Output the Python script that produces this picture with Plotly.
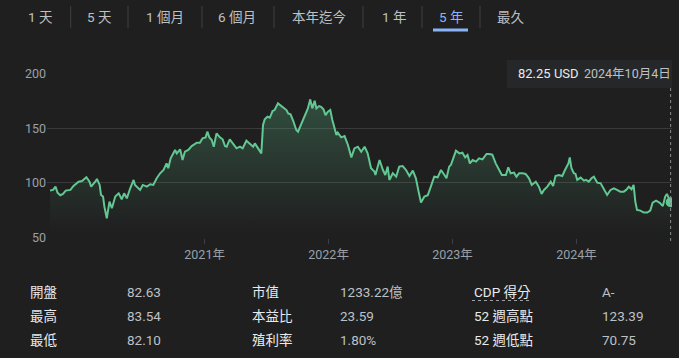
import plotly.graph_objects as go
from datetime import date

# ---------------- data ----------------
dates = [
    "2019-10-04", "2019-10-13", "2019-10-20", "2019-10-26", "2019-11-03", "2019-11-11", "2019-11-19",
    "2019-12-03", "2019-12-12", "2019-12-27", "2020-01-06", "2020-01-19", "2020-01-28", "2020-02-02",
    "2020-02-14", "2020-02-19", "2020-02-27", "2020-03-02", "2020-03-08", "2020-03-12", "2020-03-19",
    "2020-03-27", "2020-04-03", "2020-04-13", "2020-04-23", "2020-05-02", "2020-05-09", "2020-05-17",
    "2020-05-27", "2020-06-06", "2020-06-10", "2020-06-25", "2020-07-03", "2020-07-15", "2020-07-25",
    "2020-08-03", "2020-08-13", "2020-08-23", "2020-09-02", "2020-09-11", "2020-09-16", "2020-09-23",
    "2020-10-06", "2020-10-11", "2020-10-21", "2020-10-28", "2020-11-04", "2020-11-14", "2020-11-24",
    "2020-12-09", "2020-12-18", "2020-12-26", "2021-01-04", "2021-01-09", "2021-01-15", "2021-01-22",
    "2021-01-28", "2021-02-05", "2021-02-15", "2021-02-23", "2021-03-02", "2021-03-07", "2021-03-16",
    "2021-03-26", "2021-04-05", "2021-04-15", "2021-04-23", "2021-05-04", "2021-05-14", "2021-05-24",
    "2021-05-29", "2021-06-08", "2021-06-17", "2021-06-22", "2021-06-27", "2021-07-05", "2021-07-12",
    "2021-07-20", "2021-07-26", "2021-08-05", "2021-08-15", "2021-08-22", "2021-08-30", "2021-09-04",
    "2021-09-11", "2021-09-18", "2021-09-28", "2021-10-03", "2021-10-13", "2021-10-23", "2021-11-01",
    "2021-11-08", "2021-11-14", "2021-11-21", "2021-11-26", "2021-12-04", "2021-12-10", "2021-12-17",
    "2021-12-23", "2021-12-30", "2022-01-06", "2022-01-12", "2022-01-19", "2022-01-24", "2022-01-28",
    "2022-02-07", "2022-02-17", "2022-02-27", "2022-03-09", "2022-03-18", "2022-03-28", "2022-04-07",
    "2022-04-17", "2022-04-26", "2022-05-06", "2022-05-16", "2022-05-19", "2022-05-31", "2022-06-10",
    "2022-06-17", "2022-06-24", "2022-06-29", "2022-07-09", "2022-07-19", "2022-07-28", "2022-08-07",
    "2022-08-17", "2022-08-27", "2022-09-06", "2022-09-15", "2022-09-23", "2022-09-30", "2022-10-10",
    "2022-10-20", "2022-10-29", "2022-11-08", "2022-11-18", "2022-11-28", "2022-12-08", "2022-12-14",
    "2022-12-22", "2022-12-27", "2023-01-03", "2023-01-11", "2023-01-21", "2023-01-30", "2023-02-07",
    "2023-02-14", "2023-02-21", "2023-03-01", "2023-03-11", "2023-03-20", "2023-03-30", "2023-04-04",
    "2023-04-11", "2023-04-19", "2023-04-28", "2023-05-08", "2023-05-18", "2023-05-26", "2023-06-07",
    "2023-06-14", "2023-06-21", "2023-07-01", "2023-07-08", "2023-07-16", "2023-07-26", "2023-08-04",
    "2023-08-14", "2023-08-22", "2023-09-03", "2023-09-12", "2023-09-20", "2023-09-27", "2023-10-07",
    "2023-10-17", "2023-10-24", "2023-10-31", "2023-11-10", "2023-11-20", "2023-11-28", "2023-12-08",
    "2023-12-12", "2023-12-17", "2023-12-24", "2023-12-29", "2024-01-03", "2024-01-13", "2024-01-23",
    "2024-01-29", "2024-02-06", "2024-02-14", "2024-02-21", "2024-03-02", "2024-03-12", "2024-03-21",
    "2024-03-31", "2024-04-10", "2024-04-20", "2024-04-29", "2024-05-09", "2024-05-19", "2024-05-26",
    "2024-06-03", "2024-06-11", "2024-06-17", "2024-06-22", "2024-06-27", "2024-07-07", "2024-07-17",
    "2024-07-27", "2024-08-05", "2024-08-12", "2024-08-22", "2024-09-01", "2024-09-11", "2024-09-18",
    "2024-09-23", "2024-10-04",
]
prices = [
    93.0, 93.6, 96.6, 91.1, 88.7, 89.9, 93.0,
    93.6, 97.2, 101.2, 101.8, 105.2, 101.2, 96.6,
    101.2, 103.7, 98.2, 89.0, 87.5, 78.3, 67.6,
    82.9, 76.8, 87.5, 90.5, 85.0, 90.5, 85.9,
    95.1, 102.8, 98.2, 93.6, 98.2, 96.6, 98.8,
    98.2, 104.3, 108.9, 111.9, 118.0, 113.5, 122.6,
    130.3, 127.2, 130.9, 121.1, 128.7, 130.3, 133.9,
    137.0, 137.0, 141.0, 141.9, 147.1, 141.9, 139.5,
    133.3, 145.6, 141.9, 140.1, 133.9, 133.3, 140.1,
    135.8, 131.8, 133.3, 131.8, 138.8, 135.8, 133.3,
    136.4, 131.8, 127.2, 153.2, 158.4, 160.9, 159.9,
    166.1, 167.0, 173.1, 170.6, 168.2, 167.0, 163.9,
    163.0, 157.8, 148.6, 147.1, 154.7, 162.4, 168.5,
    176.8, 168.5, 175.5, 168.5, 170.6, 170.0, 167.6,
    162.4, 165.4, 167.0, 157.8, 148.6, 144.0, 146.2,
    141.9, 143.1, 134.9, 123.5, 131.8, 133.3, 128.7,
    133.3, 127.2, 113.5, 110.4, 107.3, 121.1, 111.9,
    107.3, 115.0, 102.8, 108.9, 105.8, 115.0, 115.6,
    111.9, 106.4, 111.3, 104.3, 92.0, 82.0, 87.5,
    88.7, 96.6, 105.8, 105.2, 111.9, 107.3, 104.3,
    115.0, 116.5, 122.6, 129.7, 127.2, 127.8, 123.5,
    125.7, 118.0, 121.1, 119.6, 122.6, 121.7, 124.2,
    126.6, 126.6, 126.0, 118.0, 111.9, 107.3, 107.3,
    114.4, 108.9, 109.5, 105.8, 108.9, 108.9, 108.3,
    104.3, 98.2, 101.2, 96.6, 89.9, 93.6, 96.6,
    101.2, 97.2, 106.4, 107.3, 106.4, 111.9, 118.0,
    123.5, 113.5, 108.9, 108.3, 102.8, 104.9, 102.1,
    102.8, 101.2, 104.3, 105.8, 100.3, 99.7, 95.1,
    89.0, 93.6, 95.1, 93.6, 92.0, 92.0, 93.6,
    96.6, 94.2, 98.2, 82.9, 75.2, 74.6, 72.8,
    72.8, 74.6, 82.0, 83.8, 82.0, 78.9, 87.5,
    89.9, 82.25,
]

year_ticks = ["2021-01-01", "2022-01-01", "2023-01-01", "2024-01-01"]
year_labels = ["2021年", "2022年", "2023年", "2024年"]
y_ticks = [50, 100, 150, 200]

tabs = ["1 天", "5 天", "1 個月", "6 個月", "本年迄今", "1 年", "5 年", "最久"]
active_tab = "5 年"

stat_labels_1 = ["開盤", "最高", "最低"]
stat_values_1 = ["82.63", "83.54", "82.10"]
stat_labels_2 = ["市值", "本益比", "殖利率"]
stat_values_2 = ["1233.22億", "23.59", "1.80%"]
stat_labels_3 = ["CDP 得分", "52 週高點", "52 週低點"]
stat_values_3 = ["A-", "123.39", "70.75"]
currency = "USD"

# ---------------- style ----------------
W, H = 679, 358
BG = "#1f1f1f"
GREEN = "#62c792"
GRID = "#3a3a3a"
AXIS_TXT = "#9aa0a6"
FONT = "Roboto, 'Noto Sans CJK TC', sans-serif"


def px(x):
    return x / W


def py(y):
    return 1 - y / H


fig = go.Figure()

fig.add_trace(go.Scatter(
    x=dates, y=prices, mode="lines",
    line=dict(color=GREEN, width=2),
    fill="tozeroy",
    fillgradient=dict(type="vertical",
                      colorscale=[[0, "rgba(98,199,146,0)"], [1, "rgba(98,199,146,0.28)"]],
                      start=55, stop=178),
    hoverinfo="skip", showlegend=False,
))
fig.add_trace(go.Scatter(
    x=[dates[-1]], y=[prices[-1]], mode="markers",
    marker=dict(color=GREEN, size=10),
    hoverinfo="skip", showlegend=False,
))

shapes = []
annotations = []

# tabs
tab_centers = [40.5, 99.5, 165, 237.5, 319, 393.5, 450.5, 511]
seps = [70.7, 128, 202, 274, 363, 422, 480]
for t, cx in zip(tabs, tab_centers):
    annotations.append(dict(
        x=px(cx), y=py(17), xref="paper", yref="paper", text=t, showarrow=False,
        font=dict(family=FONT, size=13.5, color="#8ab4f8" if t == active_tab else "#bdc1c6"),
        xanchor="center", yanchor="middle"))
for sx in seps:
    shapes.append(dict(type="line", xref="paper", yref="paper", x0=px(sx), x1=px(sx),
                       y0=py(6), y1=py(28), line=dict(color="#3c4043", width=1)))
shapes.append(dict(type="rect", xref="paper", yref="paper", x0=px(433), x1=px(468),
                   y0=py(31.5), y1=py(28.5), line=dict(width=0), fillcolor="#8ab4f8"))

# tooltip
shapes.append(dict(type="rect", xref="paper", yref="paper", x0=px(507), x1=px(672),
                   y0=py(88), y1=py(60), line=dict(width=0), fillcolor="#262728", layer="below"))
shapes.append(dict(type="line", xref="x", yref="paper", x0=dates[-1], x1=dates[-1],
                   y0=py(241), y1=py(88), line=dict(color="#8a8d91", width=1, dash="dot")))
d = date.fromisoformat(dates[-1])
annotations.append(dict(
    x=px(516), y=py(73.5), xref="paper", yref="paper",
    text=f"{prices[-1]:.2f} {currency}", showarrow=False,
    font=dict(family=FONT, size=13, color="#e8eaed"), xanchor="left", yanchor="middle"))
annotations.append(dict(
    x=px(582), y=py(73.5), xref="paper", yref="paper",
    text=f"{d.year}年{d.month}月{d.day}日", showarrow=False,
    font=dict(family=FONT, size=12.5, color="#bdc1c6"), xanchor="left", yanchor="middle"))

# stats
row_y = [291.5, 315.5, 339.5]
cols = [(28, stat_labels_1, 125, stat_values_1),
        (250, stat_labels_2, 338, stat_values_2),
        (472, stat_labels_3, 600, stat_values_3)]
for lx, labs, vx, vals in cols:
    for ry, lab, val in zip(row_y, labs, vals):
        annotations.append(dict(x=px(lx), y=py(ry), xref="paper", yref="paper", text=lab,
                                showarrow=False, xanchor="left", yanchor="middle",
                                font=dict(family=FONT, size=13.5, color="#e8eaed")))
        annotations.append(dict(x=px(vx), y=py(ry), xref="paper", yref="paper", text=val,
                                showarrow=False, xanchor="left", yanchor="middle",
                                font=dict(family=FONT, size=13.5, color="#bdc1c6")))
shapes.append(dict(type="line", xref="paper", yref="paper", x0=px(472), x1=px(532),
                   y0=py(300.5), y1=py(300.5), line=dict(color="#9aa0a6", width=1, dash="dot")))

fig.update_layout(
    width=W, height=H,
    margin=dict(l=0, r=0, t=0, b=0, autoexpand=False),
    paper_bgcolor=BG, plot_bgcolor=BG,
    shapes=shapes, annotations=annotations,
    font=dict(family=FONT),
    xaxis=dict(
        domain=[px(47), px(672)],
        type="date", range=["2019-09-25", "2024-10-08"],
        tickvals=year_ticks, ticktext=year_labels,
        showgrid=False, zeroline=False, showline=False,
        ticks="outside", ticklen=5, tickcolor="#3c4043",
        tickfont=dict(family=FONT, size=12.5, color=AXIS_TXT),
        fixedrange=True, automargin=False,
    ),
    yaxis=dict(
        domain=[py(237.5), py(74)],
        range=[49.9, 200.1],
        tickvals=y_ticks,
        showgrid=True, gridcolor=GRID, gridwidth=1,
        zeroline=False, showline=False, ticks="",
        tickfont=dict(family=FONT, size=12.5, color=AXIS_TXT),
        fixedrange=True, automargin=False,
    ),
)

fig.write_html(
    "out.html",
    config={"displayModeBar": False},
    post_script="document.body.style.margin='0';document.body.style.padding='0';"
                "document.documentElement.style.background='#1f1f1f';",
)
